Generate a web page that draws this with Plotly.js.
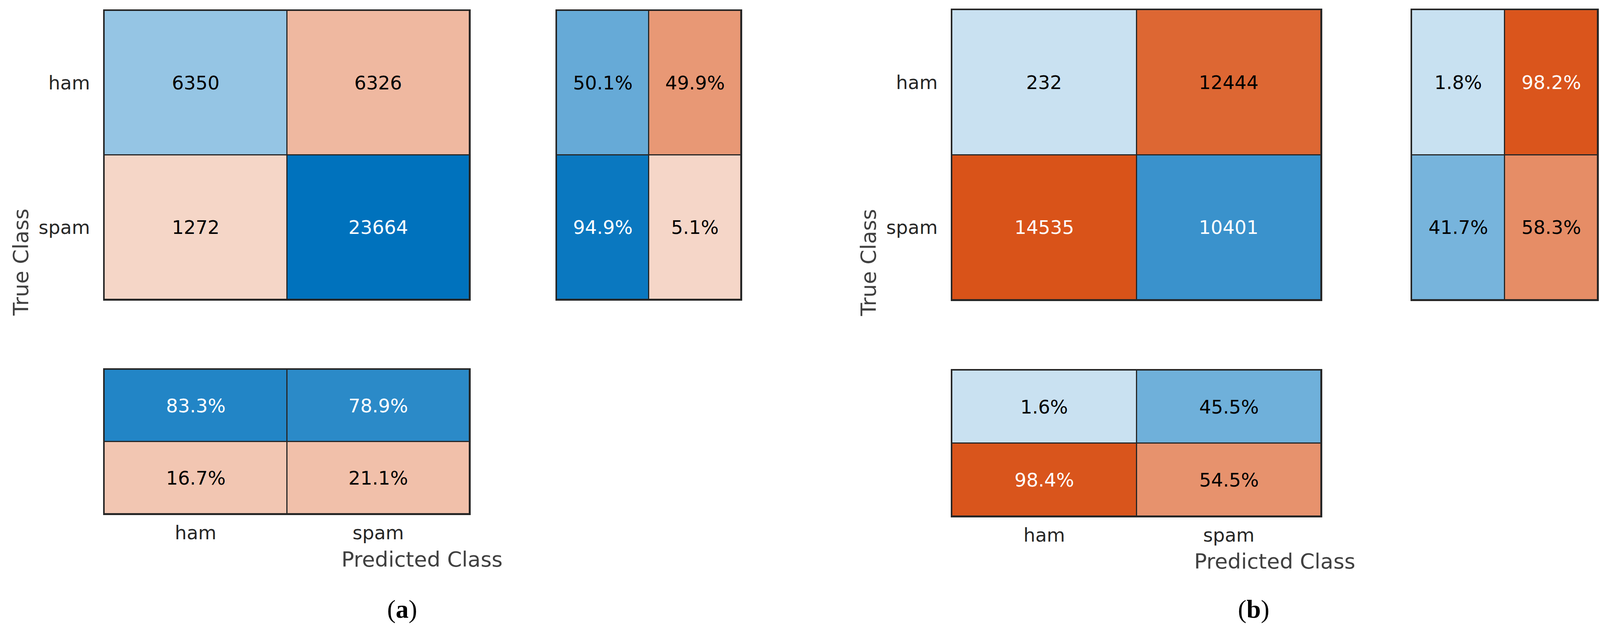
<!DOCTYPE html>
<html><head><meta charset="utf-8">
<script src="https://cdn.plot.ly/plotly-3.0.1.min.js"></script>
<style>html,body{margin:0;padding:0;background:#fff}#chart{width:4109px;height:1621px}</style>
</head><body><div id="chart"></div>
<script>
// ---- data ----
const classes = ['ham', 'spam'];
const countsA = [[6350, 6326], [1272, 23664]];
const rowPctA = [[50.1, 49.9], [94.9, 5.1]];
const colPctA = [[83.3, 78.9], [16.7, 21.1]];
const countsB = [[232, 12444], [14535, 10401]];
const rowPctB = [[1.8, 98.2], [41.7, 58.3]];
const colPctB = [[1.6, 45.5], [98.4, 54.5]];
const xTitle = 'Predicted Class';
const yTitle = 'True Class';
const captions = ['a', 'b'];

// ---- style / layout ----
const W = 4109, H = 1621;
const BLUE = [0, 114, 189], ORANGE = [217, 83, 25];
const BASE_TINT = 0.2;
const LINE = '#262626';
const FONT = 'DejaVu Sans';
function tint(c, f) { return c.map(v => Math.round(255 - (255 - v) * f)); }
function rgb(c) { return 'rgb(' + c.join(',') + ')'; }
function cscale(c) { return [[0, rgb(tint(c, BASE_TINT))], [1, rgb(c)]]; }

const fmtCount = v => String(v);
const fmtPct = v => v.toFixed(1) + '%';
const diag = (i, j) => i === j;
const firstCol = (i, j) => j === 0;
const firstRow = (i, j) => i === 0;

// boxes in pixels: [x0, x1, yTop, yBottom]
const panels = [
  { m: countsA, fmt: fmtCount, max: Math.max(...countsA.flat()), ok: diag, box: [267, 1202, 27, 767], yt: true, xt: false },
  { m: rowPctA, fmt: fmtPct, max: 100, ok: firstCol, box: [1425, 1897, 27, 767], yt: false, xt: false },
  { m: colPctA, fmt: fmtPct, max: 100, ok: firstRow, box: [267, 1202, 946, 1316], yt: false, xt: true },
  { m: countsB, fmt: fmtCount, max: Math.max(...countsB.flat()), ok: diag, box: [2437, 3382, 25, 768], yt: true, xt: false },
  { m: rowPctB, fmt: fmtPct, max: 100, ok: firstCol, box: [3614, 4090, 25, 768], yt: false, xt: false },
  { m: colPctB, fmt: fmtPct, max: 100, ok: firstRow, box: [2437, 3382, 948, 1322], yt: false, xt: true }
];

const traces = [];
const layout = {
  width: W, height: H, autosize: false,
  margin: { l: 0, r: 0, t: 0, b: 0 },
  paper_bgcolor: '#fff', plot_bgcolor: LINE,
  showlegend: false,
  annotations: []
};

panels.forEach((p, k) => {
  const n = k + 1;
  const xa = 'x' + n, ya = 'y' + n;
  const idx = [0, 1];
  [true, false].forEach(good => {
    const z = p.m.map((row, i) => row.map((v, j) => (p.ok(i, j) === good ? v : null)));
    traces.push({
      type: 'heatmap', x: idx, y: idx, z: z,
      zmin: 0, zmax: p.max,
      colorscale: cscale(good ? BLUE : ORANGE),
      showscale: false, xgap: 3, ygap: 3,
      hoverinfo: 'skip',
      xaxis: xa, yaxis: ya
    });
  });
  const [x0, x1, yT, yB] = p.box;
  const common = {
    showgrid: false, zeroline: false, showline: true, mirror: true,
    linecolor: LINE, linewidth: 3, ticks: '', fixedrange: true,
    tickvals: idx, ticktext: classes,
    tickfont: { family: FONT, size: 48, color: LINE }
  };
  layout['xaxis' + (n === 1 ? '' : n)] = Object.assign({}, common, {
    domain: [x0 / W, x1 / W], range: [-0.5, 1.5], anchor: ya,
    showticklabels: p.xt, ticklabelstandoff: 4
  });
  layout['yaxis' + (n === 1 ? '' : n)] = Object.assign({}, common, {
    domain: [1 - yB / H, 1 - yT / H], range: [1.5, -0.5], anchor: xa,
    showticklabels: p.yt, ticklabelstandoff: 24
  });
  // cell texts
  p.m.forEach((row, i) => row.forEach((v, j) => {
    const base = p.ok(i, j) ? BLUE : ORANGE;
    const f = BASE_TINT + (1 - BASE_TINT) * v / p.max;
    const c = tint(base, f);
    const br = (299 * c[0] + 587 * c[1] + 114 * c[2]) / 1000;
    layout.annotations.push({
      xref: xa, yref: ya, x: j, y: i, text: p.fmt(v), showarrow: false,
      font: { family: FONT, size: 48, color: br < 128 ? '#ffffff' : '#000000' }
    });
  }));
});

// axis titles and captions (paper positions)
const titleFont = { family: FONT, size: 54, color: '#404040' };
// [xTitle x, xTitle y, yTitle x, yTitle y, caption x]
[[1080, 1432, 53, 672, 1029], [3263, 1437, 2224, 673, 3209]].forEach((pos, k) => {
  layout.annotations.push({
    xref: 'paper', yref: 'paper', x: pos[0] / W, y: 1 - pos[1] / H,
    xanchor: 'center', yanchor: 'middle', text: xTitle, showarrow: false, font: titleFont
  });
  layout.annotations.push({
    xref: 'paper', yref: 'paper', x: pos[2] / W, y: 1 - pos[3] / H,
    xanchor: 'center', yanchor: 'middle', text: yTitle, textangle: -90, showarrow: false, font: titleFont
  });
  layout.annotations.push({
    xref: 'paper', yref: 'paper', x: pos[4] / W, y: 1 - 1560 / H,
    xanchor: 'center', yanchor: 'middle', text: '(<b>' + captions[k] + '</b>)', showarrow: false,
    font: { family: 'Liberation Serif', size: 66, color: '#000000' }
  });
});

Plotly.newPlot('chart', traces, layout, { staticPlot: true, displayModeBar: false });
</script>
</body></html>
